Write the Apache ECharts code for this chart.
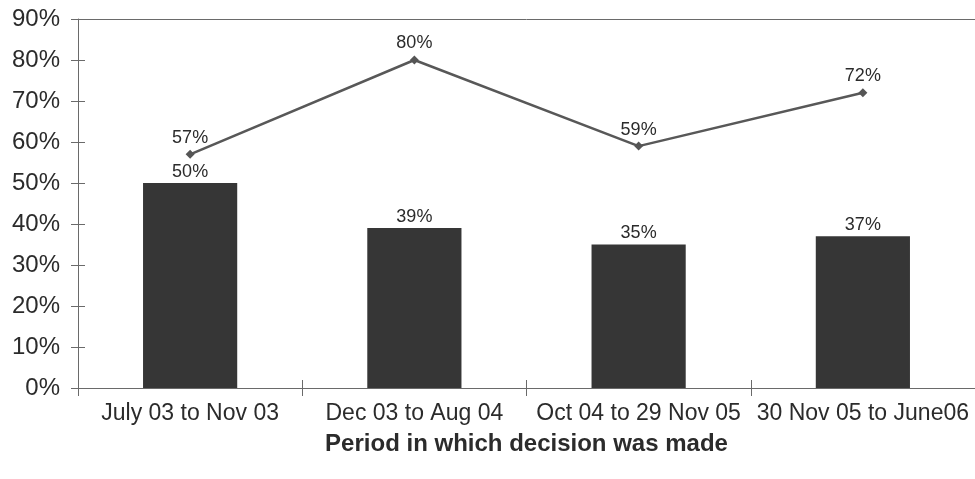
<!DOCTYPE html>
<html>
<head>
<meta charset="utf-8">
<script src="https://cdn.jsdelivr.net/npm/echarts@6/dist/echarts.min.js"></script>
<style>
  html, body { margin: 0; padding: 0; background: #fff; }
  #chart { width: 975px; height: 479px; }
</style>
</head>
<body>
<div id="chart"></div>
<script>
// Periods and the two percentage series
const periods = ['July 03 to Nov 03', 'Dec 03 to Aug 04', 'Oct 04 to 29 Nov 05', '30 Nov 05 to June06'];
const barValues = [50, 39, 35, 37];
const lineValues = [57, 80, 59, 72];
const yTicks = { min: 0, max: 90, step: 10 };
const axisTitle = 'Period in which decision was made';

const textColor = '#2b2b2b';
const axisColor = '#6a6a6a';
const font = 'Liberation Sans, Arial, sans-serif';

const chart = echarts.init(document.getElementById('chart'), null, { renderer: 'canvas' });

const pct = v => v + '%';

chart.setOption({
  backgroundColor: '#ffffff',
  animation: false,
  grid: { left: 78, right: 0, top: 19, bottom: 91, containLabel: false },
  xAxis: [
    {
      type: 'category',
      data: periods,
      position: 'bottom',
      boundaryGap: true,
      axisLine: { show: true, lineStyle: { color: axisColor, width: 1 } },
      axisTick: { show: true, alignWithLabel: false, length: 8, lineStyle: { color: axisColor } },
      axisLabel: { color: textColor, fontSize: 23, fontFamily: font, margin: 14, interval: 0 },
      name: axisTitle,
      nameLocation: 'middle',
      nameGap: 44,
      nameTextStyle: { color: textColor, fontSize: 24, fontWeight: 'bold', fontFamily: font }
    },
    {
      // ticks that reach into the plot area above the baseline
      type: 'category',
      data: periods,
      position: 'bottom',
      axisLine: { show: false },
      axisTick: { show: true, inside: true, length: 8, lineStyle: { color: axisColor } },
      axisLabel: { show: false }
    },
    {
      // top border line
      type: 'category',
      data: periods,
      position: 'top',
      axisLine: { show: true, lineStyle: { color: axisColor, width: 1 } },
      axisTick: { show: false },
      axisLabel: { show: false }
    }
  ],
  yAxis: [
    {
      type: 'value',
      min: yTicks.min,
      max: yTicks.max,
      interval: yTicks.step,
      axisLine: { show: true, lineStyle: { color: axisColor, width: 1 } },
      axisTick: { show: true, length: 7, lineStyle: { color: axisColor } },
      axisLabel: { color: textColor, fontSize: 24, fontFamily: font, margin: 18, formatter: pct },
      splitLine: { show: false }
    },
    {
      // inner half of the crossing tick marks
      type: 'value',
      position: 'left',
      min: yTicks.min,
      max: yTicks.max,
      interval: yTicks.step,
      axisLine: { show: false },
      axisTick: { show: true, inside: true, length: 7, lineStyle: { color: axisColor } },
      axisLabel: { show: false },
      splitLine: { show: false }
    }
  ],
  series: [
    {
      type: 'bar',
      data: barValues,
      barWidth: '42%',
      itemStyle: { color: '#363636' },
      label: {
        show: true,
        position: 'top',
        distance: 2,
        formatter: p => pct(p.value),
        color: textColor,
        fontSize: 18,
        fontFamily: font
      },
      z: 2
    },
    {
      type: 'line',
      data: lineValues,
      symbol: 'diamond',
      symbolSize: 9,
      itemStyle: { color: '#555555' },
      lineStyle: { color: '#585858', width: 2.5 },
      label: {
        show: true,
        position: 'top',
        distance: 3,
        formatter: p => pct(p.value),
        color: textColor,
        fontSize: 18,
        fontFamily: font
      },
      z: 3
    }
  ]
});
</script>
</body>
</html>
